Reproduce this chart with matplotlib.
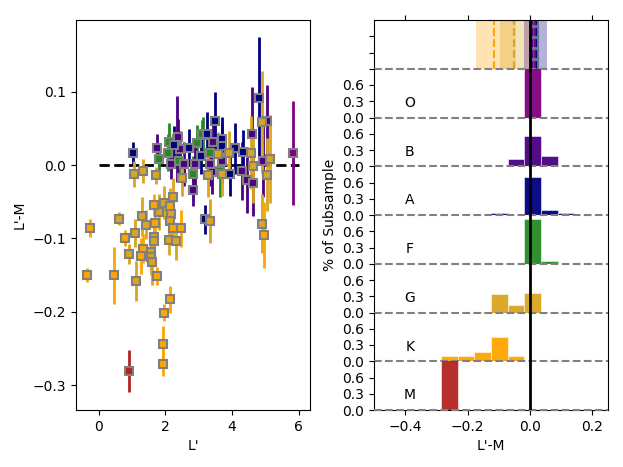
import matplotlib
matplotlib.use('Agg')
import matplotlib.pyplot as plt
import numpy as np

# ---------------- data ----------------
class_names = ['O', 'B', 'A', 'F', 'G', 'K', 'M']
class_colors = ['purple', 'indigo', 'navy', 'forestgreen', 'goldenrod', 'orange', 'firebrick']

# scatter: L' , L'-M , error on L'-M
O_x = [5.82]
O_y = [0.017]
O_err = [0.071]

B_x = [1.75, 2.17, 2.35, 2.43, 2.55, 2.90, 2.83, 3.42, 3.34, 3.39, 3.69, 4.29, 4.44, 4.59, 4.64, 5.06, 4.92, 2.37]
B_y = [0.023, 0.001, 0.036, 0.022, 0.002, 0.002, -0.034, 0.032, 0.002, -0.009, 0.005, -0.008, -0.020, 0.042, -0.024, 0.060, 0.006, 0.038]
B_err = [0.020, 0.020, 0.059, 0.025, 0.030, 0.030, 0.022, 0.030, 0.030, 0.030, 0.030, 0.040, 0.045, 0.065, 0.045, 0.050, 0.050, 0.025]

A_x = [1.03, 2.27, 2.72, 3.07, 3.25, 3.49, 3.69, 3.71, 3.94, 4.09, 4.34, 4.81, 3.19]
A_y = [0.016, 0.028, 0.024, 0.013, 0.042, 0.060, 0.036, 0.026, -0.012, 0.023, 0.018, 0.091, -0.074]
A_err = [0.015, 0.025, 0.025, 0.025, 0.030, 0.040, 0.030, 0.030, 0.030, 0.035, 0.030, 0.084, 0.020]

F_x = [1.82, 2.10, 2.07, 2.40, 2.95, 2.82, 3.14, 3.34, 3.64, 3.10]
F_y = [0.008, 0.032, 0.017, 0.005, 0.030, -0.012, 0.041, 0.017, -0.008, 0.042]
F_err = [0.015, 0.025, 0.025, 0.020, 0.025, 0.025, 0.025, 0.025, 0.035, 0.020]

G_x = [0.60, 0.90, 1.10, 1.11, 1.30, 1.43, 1.57, 1.58, 1.61, 1.81, 1.67, 1.67, 1.97, 2.22, 2.18, 2.15, 2.10,
       2.33, 3.34, 1.07, 1.33, 1.71, 2.51, 3.29, 3.59, 3.69, 3.91, 4.57, 4.64, 4.89, 5.14, 5.04, 4.91]
G_y = [-0.073, -0.121, -0.092, -0.158, -0.070, -0.081, -0.118, -0.125, -0.132, -0.064, -0.098, -0.104, -0.051,
       -0.043, -0.066, -0.076, -0.102, -0.104, -0.076, -0.012, -0.008, -0.014, -0.017, -0.014, 0.015, -0.012,
       0.017, 0.017, -0.001, 0.059, 0.009, -0.013, -0.080]
G_err = [0.009, 0.014, 0.019, 0.027, 0.026, 0.020, 0.025, 0.025, 0.031, 0.025, 0.020, 0.020, 0.022, 0.025,
         0.030, 0.030, 0.020, 0.025, 0.030, 0.018, 0.016, 0.012, 0.025, 0.030, 0.030, 0.030, 0.030, 0.050,
         0.050, 0.070, 0.060, 0.050, 0.040]

K_x = [-0.35, -0.26, 0.45, 0.80, 1.33, 1.28, 1.67, 1.69, 1.75, 2.13, 2.23, 2.48, 2.13, 1.96, 1.94, 1.93, 4.97]
K_y = [-0.150, -0.086, -0.150, -0.099, -0.114, -0.124, -0.055, -0.079, -0.151, -0.056, -0.086, -0.086,
       -0.183, -0.201, -0.244, -0.271, -0.095]
K_err = [0.010, 0.012, 0.039, 0.011, 0.020, 0.025, 0.015, 0.020, 0.012, 0.025, 0.020, 0.025, 0.018,
         0.012, 0.025, 0.017, 0.045]

M_x = [0.91]
M_y = [-0.281]
M_err = [0.029]

# histograms (fraction of subsample per bin of L'-M)
bin_edges = [-0.286, -0.232, -0.179, -0.125, -0.072, -0.018, 0.035, 0.089, 0.142]
hist_O = [0, 0, 0, 0, 0, 1.0, 0, 0]
hist_B = [0, 0, 0, 0, 0.135, 0.56, 0.185, 0]
hist_A = [0, 0, 0, 0.04, 0, 0.71, 0.085, 0.043]
hist_F = [0, 0, 0, 0, 0, 0.825, 0.055, 0]
hist_G = [0, 0, 0.015, 0.333, 0.142, 0.357, 0.015, 0]
hist_K = [0.09, 0.09, 0.18, 0.45, 0.09, 0, 0, 0]
hist_M = [1.0, 0, 0, 0, 0, 0, 0, 0]

# summary panel: median and spread per class
summ_classes = ['K', 'G', 'B', 'F', 'A', 'O']
summ_med = [-0.116, -0.050, 0.006, 0.013, 0.020, 0.017]
summ_lo = [-0.173, -0.096, -0.018, 0.000, -0.003, 0.017]
summ_hi = [-0.046, -0.003, 0.030, 0.030, 0.054, 0.017]

# ---------------- figure ----------------
W, H = 623, 467
fig = plt.figure(figsize=(W / 100, H / 100), dpi=100)

scat = {
    'O': (O_x, O_y, O_err), 'B': (B_x, B_y, B_err), 'A': (A_x, A_y, A_err),
    'F': (F_x, F_y, F_err), 'G': (G_x, G_y, G_err), 'K': (K_x, K_y, K_err),
    'M': (M_x, M_y, M_err),
}
hists = {'O': hist_O, 'B': hist_B, 'A': hist_A, 'F': hist_F, 'G': hist_G, 'K': hist_K, 'M': hist_M}
cmap = dict(zip(class_names, class_colors))

# left scatter
axL = fig.add_axes([76 / W, 57 / H, 234 / W, 390 / H])
axL.hlines(0, 0, 6, colors='k', linestyles='--', lw=2, zorder=1)
for c in ['O', 'F', 'B', 'A', 'G', 'K', 'M']:
    x, y, e = scat[c]
    axL.errorbar(x, y, yerr=e, fmt='s', color=cmap[c], ecolor=cmap[c], elinewidth=2,
                 ms=6, mec='grey', mew=1.5, capsize=0, zorder=2)
axL.set_xlim(-0.68, 6.34)
axL.set_ylim(-0.334, 0.198)
axL.set_xticks([0, 2, 4, 6])
axL.set_yticks([-0.3, -0.2, -0.1, 0.0, 0.1])
axL.set_xlabel("L'")
axL.set_ylabel("L'-M")

# right stacked panels
n = 8
ph = 390 / n
axes = []
for i in range(n):
    bottom = 57 + (n - 1 - i) * ph
    ax = fig.add_axes([374 / W, bottom / H, 234 / W, ph / H])
    ax.patch.set_visible(False)
    ax.set_xlim(-0.5, 0.25)
    ax.set_ylim(0, 0.9)
    ax.set_yticks([0.0, 0.3, 0.6])
    ax.axhline(0, color='grey', ls='--', lw=1.5, zorder=4, clip_on=False)
    ax.axvline(0, color='k', lw=2, zorder=5)
    axes.append(ax)

# top summary panel
ax0 = axes[0]
for c, m, lo, hi in zip(summ_classes, summ_med, summ_lo, summ_hi):
    ax0.axvspan(lo, hi, color=cmap[c], alpha=0.3, lw=0)
    ax0.axvline(m, color=cmap[c], ls='--', lw=1.5)
ax0.xaxis.tick_top()
ax0.tick_params(axis='x', labeltop=False)
ax0.tick_params(axis='y', labelleft=False)
ax0.set_xticks([-0.4, -0.2, 0.0, 0.2])
ax0.spines['bottom'].set_visible(False)

for i, c in enumerate(class_names):
    ax = axes[i + 1]
    ax.hist(bin_edges[:-1], bins=bin_edges, weights=hists[c], color=cmap[c],
            edgecolor='white', linewidth=0.4, alpha=0.95, zorder=3)
    ax.text(-0.385, 0.27, c, ha='center', va='center', fontsize=10)
    ax.spines['top'].set_visible(False)
    if i < len(class_names) - 1:
        ax.spines['bottom'].set_visible(False)
        ax.tick_params(axis='x', bottom=False, labelbottom=False)
    else:
        ax.set_xticks([-0.4, -0.2, 0.0, 0.2])
        ax.set_xlabel("L'-M")

fig.text(330 / W, (467 - 215) / H, '% of Subsample', rotation=90, ha='center', va='center', fontsize=10)

fig.savefig('out.png', dpi=100)
